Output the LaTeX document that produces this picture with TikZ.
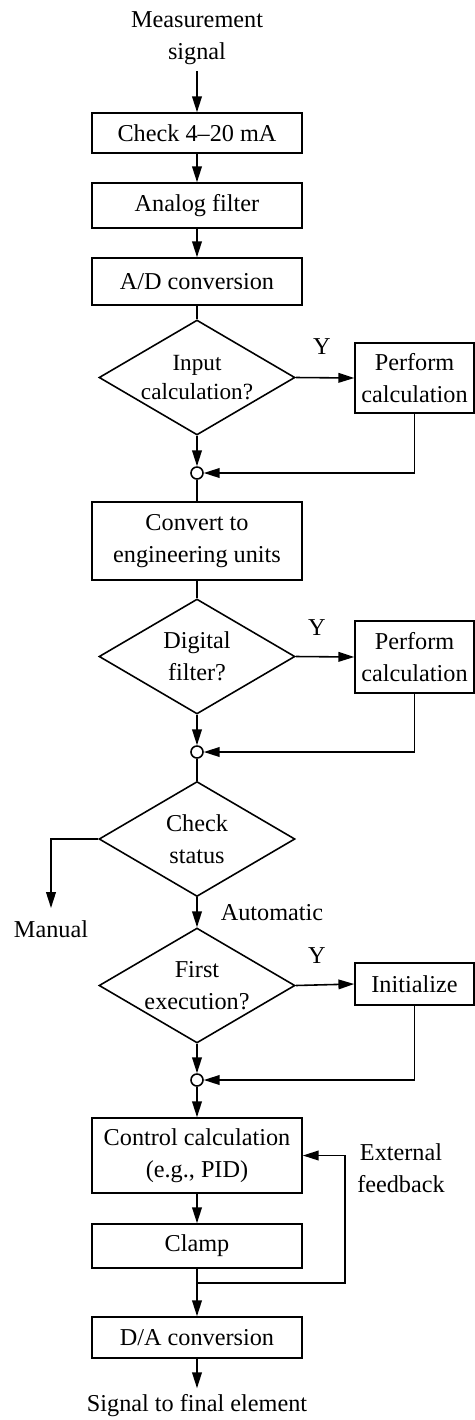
\documentclass[tikz,border=0pt]{standalone}
\usepackage{fontspec}
\setmainfont{Liberation Serif}
\usetikzlibrary{shapes.geometric,arrows.meta}

\begin{document}
\begin{tikzpicture}[x=0.02cm, y=-0.02cm, line width=0.9pt,
    every node/.style={font=\fontsize{13.8}{18}\selectfont, align=center},
    stepbox/.style={draw, minimum width=4.2cm, inner sep=2pt},
    sidebox/.style={draw, minimum width=2.38cm, inner sep=2pt},
    decision/.style={draw, diamond, aspect=1.68, minimum width=3.92cm, minimum height=2.3cm, inner sep=-2.5pt},
    junction/.style={draw, circle, minimum size=0.24cm, inner sep=0pt, fill=white},
    flow/.style={-{Triangle[length=9pt,width=5.5pt]}}]
    \useasboundingbox (0,0) rectangle (475,1420);

    % Input stage
    \node (msig) at (197,38) {Measurement\\signal};
    \node[stepbox, minimum height=0.8cm] (check) at (197,133) {Check 4--20 mA};
    \node[stepbox, minimum height=0.9cm] (analog) at (197,205.5) {Analog filter};
    \node[stepbox, minimum height=0.94cm] (adc) at (197,281.5) {A/D conversion};
    \draw[flow] (msig) -- (check);
    \draw[flow] (check) -- (analog);
    \draw[flow] (analog) -- (adc);

    % Input calculation
    \node[decision, font=\fontsize{13.2}{17}\selectfont] (dec1) at (197,377.5) {Input\\calculation?};
    \node[sidebox, minimum height=1.4cm] (calc1) at (414.5,378) {Perform\\calculation};
    \node[junction] (j1) at (197,473) {};
    \node (y1) at (322,347) {Y};
    \draw (adc) -- (dec1);
    \draw[flow] (dec1.east) -- (calc1.west);
    \draw[flow] (dec1.south) -- (j1.north);
    \draw[flow] (calc1.south) |- (j1.east);

    % Engineering units and digital filter
    \node[stepbox, minimum height=1.56cm] (conv) at (197,541) {Convert to\\engineering units};
    \node[decision] (dec2) at (197,656.5) {Digital\\filter?};
    \node[sidebox, minimum height=1.44cm] (calc2) at (414.5,657) {Perform\\calculation};
    \node[junction] (j2) at (197,752) {};
    \node (y2) at (317,628) {Y};
    \draw (j1.south) -- (conv.north);
    \draw (conv.south) -- (dec2.north);
    \draw[flow] (dec2.east) -- (calc2.west);
    \draw[flow] (dec2.south) -- (j2.north);
    \draw[flow] (calc2.south) |- (j2.east);

    % Status check
    \node[decision] (dec3) at (197,839) {Check\\status};
    \node (manual) at (51,929) {Manual};
    \coordinate (mend) at (51,908);
    \node (auto) at (272,913) {Automatic};
    \draw (j2.south) -- (dec3.north);
    \draw[flow] (dec3.west) -| (mend);

    % First execution
    \node[decision] (dec4) at (197,985.5) {First\\execution?};
    \node[sidebox, minimum height=0.84cm] (init) at (414.5,984) {Initialize};
    \node[junction] (j3) at (197,1080) {};
    \node (y3) at (317,956) {Y};
    \draw[flow] (dec3.south) -- (dec4.north);
    \draw[flow] (dec4.east) -- (init.west);
    \draw[flow] (dec4.south) -- (j3.north);
    \draw[flow] (init.south) |- (j3.east);

    % Control and output
    \node[stepbox, minimum height=1.5cm] (ctrl) at (197,1155.5) {Control calculation\\(e.g., PID)};
    \node[stepbox, minimum height=0.88cm] (clamp) at (197,1246) {Clamp};
    \node[stepbox, minimum height=0.82cm] (dac) at (197,1337.5) {D/A conversion};
    \node (out) at (197,1406) {Signal to final element};
    \node (extfb) at (401,1168) {External\\feedback};
    \coordinate (fbsplit) at (197,1283);
    \coordinate (fbright) at (345,1283);
    \draw[flow] (j3.south) -- (ctrl.north);
    \draw[flow] (ctrl) -- (clamp);
    \draw[flow] (clamp) -- (dac);
    \draw[flow] (dac) -- (out);
    \draw[flow] (fbsplit) -- (fbright) |- (ctrl.east);
\end{tikzpicture}
\end{document}
